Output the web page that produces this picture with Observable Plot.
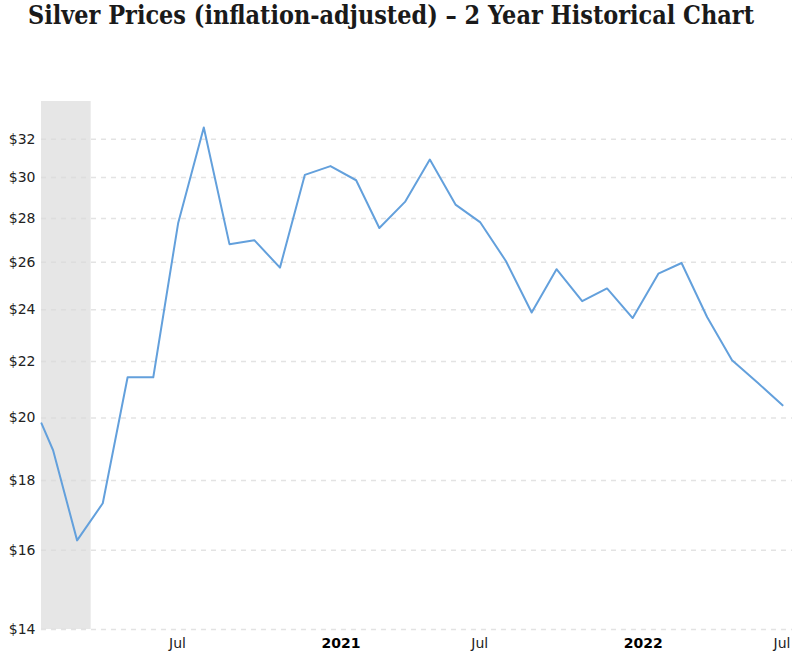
<!DOCTYPE html>
<html><head><meta charset="utf-8">
<script src="https://cdn.jsdelivr.net/npm/d3@7"></script>
<script src="https://cdn.jsdelivr.net/npm/@observablehq/plot@0.6"></script>
<style>
body{margin:0;background:#fff;}
#title{height:40px;position:relative;overflow:hidden;width:802px;}
#t{position:absolute;left:28px;top:0px;font-family:"DejaVu Serif",serif;font-weight:bold;font-size:26px;line-height:30px;color:#1a1a1a;white-space:nowrap;transform-origin:0 0;}
</style></head><body>
<div id="title"><span id="t">Silver Prices (inflation-adjusted) – 2 Year Historical Chart</span></div>
<div id="chart"></div>
<script>
// Monthly inflation-adjusted silver price (USD / oz)
const months = ["2020-01-18","2020-02-01","2020-03-01","2020-04-01","2020-05-01","2020-06-01","2020-07-01","2020-08-01","2020-09-01","2020-10-01","2020-11-01","2020-12-01","2021-01-01","2021-02-01","2021-03-01","2021-04-01","2021-05-01","2021-06-01","2021-07-01","2021-08-01","2021-09-01","2021-10-01","2021-11-01","2021-12-01","2022-01-01","2022-02-01","2022-03-01","2022-04-01","2022-05-01","2022-06-01","2022-07-01"];
const prices = [19.82,18.94,16.27,17.32,21.42,21.42,27.77,32.64,26.81,26.99,25.77,30.13,30.58,29.86,27.55,28.79,30.92,28.66,27.81,26.05,23.89,25.70,24.35,24.88,23.67,25.51,25.97,23.70,22.04,21.22,20.43];
// Recession shading
const recessionStart = ["2020-01-18"];
const recessionEnd = ["2020-03-18"];
// Axis ticks
const yTicks = [14,16,18,20,22,24,26,28,30,32];
const xTickDates = ["2020-07-01","2021-01-01","2021-07-01","2022-01-01","2022-07-01"];
const xTickLabels = ["Jul","2021","Jul","2022","Jul"];
const xTickBold = [false,true,false,true,false];

const data = months.map((m,i)=>({date:new Date(m+"T00:00:00Z"), price:prices[i]}));
const rec = recessionStart.map((s,i)=>({x1:new Date(s+"T00:00:00Z"), x2:new Date(recessionEnd[i]+"T00:00:00Z")}));
const ticks = xTickDates.map((d,i)=>({date:new Date(d+"T00:00:00Z"), label:xTickLabels[i], bold:xTickBold[i]}));

const chart = Plot.plot({
  width: 802,
  height: 625,
  marginLeft: 41,
  marginRight: 10,
  marginTop: 61,
  marginBottom: 36,
  style: {fontFamily: "DejaVu Sans, sans-serif", fontSize: "14px", color: "#222", background: "#fff"},
  x: {type: "utc", domain: [new Date("2020-01-18T00:00:00Z"), new Date("2022-07-13T00:00:00Z")], axis: null},
  y: {type: "log", domain: [14, 34.1], ticks: yTicks, tickFormat: d => "$" + d, label: null, tickSize: 0, tickPadding: 6},
  marks: [
    Plot.rectY(rec, {x1: "x1", x2: "x2", y1: 14, y2: 34.1, fill: "#e6e6e6"}),
    Plot.ruleY(yTicks, {stroke: "#dadada", strokeOpacity: 0.75, strokeWidth: 1.5, strokeDasharray: "5,5"}),
    Plot.axisY({ticks: yTicks, tickFormat: d => "$" + d, tickSize: 0, tickPadding: 6, label: null, fontSize: 14, fill: "#222"}),
    Plot.line(data, {x: "date", y: "price", stroke: "#63a0dc", strokeWidth: 2, strokeLinejoin: "round"}),
    Plot.text(ticks.filter(t=>!t.bold), {x: "date", text: "label", frameAnchor: "bottom", dy: 18, textAnchor: "start", dx: -9, fill: "#222", fontSize: 14}),
    Plot.text(ticks.filter(t=>t.bold), {x: "date", text: "label", frameAnchor: "bottom", dy: 18, textAnchor: "start", dx: -9, fill: "#000", fontSize: 14, fontWeight: "bold"})
  ]
});
document.getElementById("chart").appendChild(chart);

const t = document.getElementById("t");
const w = t.getBoundingClientRect().width;
t.style.transform = "scaleX(" + (726 / w) + ")";
</script>
</body></html>
